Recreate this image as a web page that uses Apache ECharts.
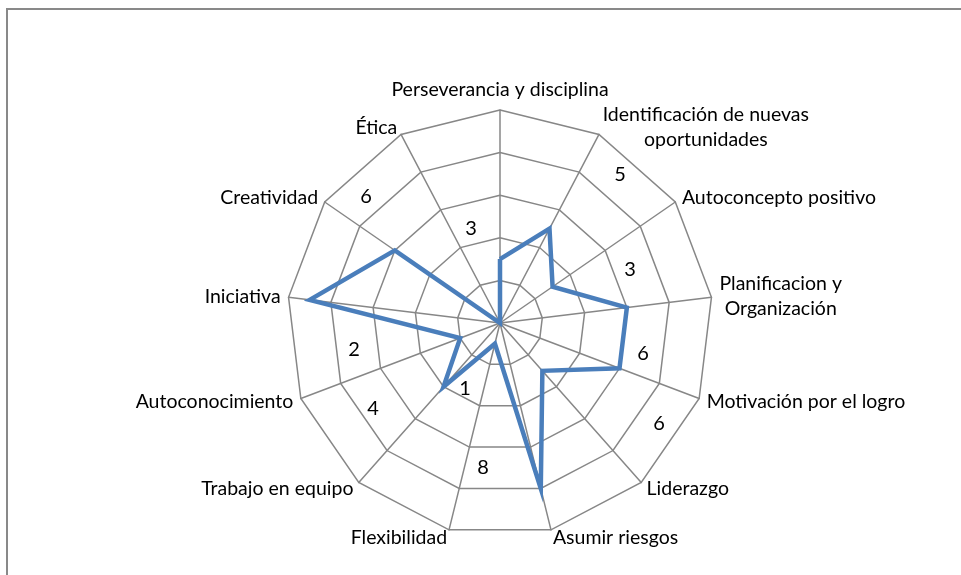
<!DOCTYPE html>
<html>
<head>
<meta charset="utf-8">
<script src="https://cdn.jsdelivr.net/npm/echarts@6/dist/echarts.min.js"></script>
<style>
  html, body { margin: 0; padding: 0; background: #fff; }
  #chart { width: 961px; height: 575px; }
</style>
</head>
<body>
<div id="chart"></div>
<script>
// categories in clockwise order, starting from the top
const categories = [
  'Perseverancia y disciplina',
  'Identificación de nuevas\noportunidades',
  'Autoconcepto positivo',
  'Planificacion y\nOrganización',
  'Motivación por el logro',
  'Liderazgo',
  'Asumir riesgos',
  'Flexibilidad',
  'Trabajo en equipo',
  'Autoconocimiento',
  'Iniciativa',
  'Creatividad',
  'Ética'
]
const values = [3, 5, 3, 6, 6, 3, 8, 1, 4, 2, 9, 6, 0]
const maxValue = 10

// loose value labels as they sit in the original
const labelTexts = ['3', '5', '3', '6', '6', '8', '1', '4', '2', '6']
const labelSpots = [
  [471, 229], [620, 175], [630, 270], [643, 354], [659, 424],
  [483, 468], [465, 389], [373, 409], [354, 350], [366, 197]
]

const font = 'Lato, "Open Sans", sans-serif'
const gray = '#878787'

// echarts lays indicators out counter-clockwise, so flip the tail
const order = [0].concat(categories.map((c, i) => i).slice(1).reverse())

const chart = echarts.init(document.getElementById('chart'))

const graphics = [
  {
    type: 'rect',
    shape: { x: 7, y: 9, width: 1000, height: 620 },
    style: { fill: 'none', stroke: '#898989', lineWidth: 2 },
    silent: true
  }
]
labelTexts.forEach((t, i) => {
  graphics.push({
    type: 'text',
    x: labelSpots[i][0],
    y: labelSpots[i][1],
    style: {
      text: t,
      font: '20px ' + font,
      fill: '#000',
      align: 'center',
      verticalAlign: 'middle'
    },
    z: 10
  })
})

chart.setOption({
  backgroundColor: '#fff',
  animation: false,
  radar: {
    center: [500, 323],
    radius: 213,
    startAngle: 90,
    splitNumber: 5,
    shape: 'polygon',
    nameGap: 8,
    axisName: {
      color: '#000',
      fontFamily: font,
      fontSize: 19.5,
      lineHeight: 25,
      formatter: name => name.split('\n').map(s => '{c|' + s + '}').join('\n'),
      rich: {
        c: { align: 'center', color: '#000', fontFamily: font, fontSize: 19.5, lineHeight: 25 }
      }
    },
    indicator: order.map(i => ({ name: categories[i], min: 0, max: maxValue })),
    axisLine: { lineStyle: { color: gray, width: 1.5 } },
    splitLine: { lineStyle: { color: gray, width: 1.5 } },
    splitArea: { show: false },
    axisTick: { show: false },
    axisLabel: { show: false }
  },
  graphic: graphics,
  series: [
    {
      type: 'radar',
      symbol: 'none',
      lineStyle: { color: '#4a7ebb', width: 4.5, join: 'miter' },
      data: [{ value: order.map(i => values[i]) }]
    }
  ]
})
</script>
</body>
</html>
